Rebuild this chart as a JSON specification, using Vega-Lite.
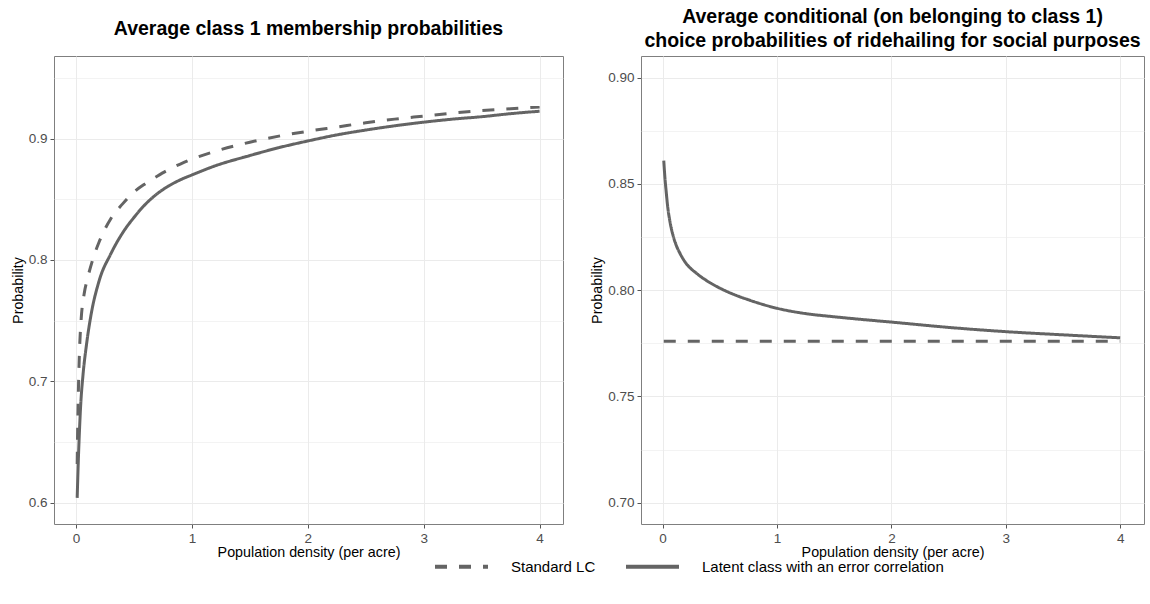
{
  "$schema": "https://vega.github.io/schema/vega-lite/v6.json",
  "background": "white",
  "padding": {"left": 10, "top": 6, "right": 2, "bottom": 2},
  "spacing": 26,
  "config": {
    "font": "Liberation Sans",
    "view": {"stroke": "#7F7F7F", "strokeWidth": 1},
    "title": {"font": "Liberation Sans", "fontSize": 19.5, "fontWeight": "bold", "color": "#000000", "anchor": "middle", "lineHeight": 24, "baseline": "bottom"},
    "axis": {
      "domain": false,
      "labelFont": "Liberation Sans", "labelFontSize": 13.5, "labelColor": "#4D4D4D",
      "titleFont": "Liberation Sans", "titleColor": "#000000", "titleFontWeight": "normal",
      "tickColor": "#555555", "tickSize": 4,
      "gridColor": "#EBEBEB", "labelOverlap": false, "labelFlush": false
    }
  },
  "datasets": {
    "curves": [
      {"panel": "left", "model": "Latent class with an error correlation", "x": 0.01, "p": 0.604},
      {"panel": "left", "model": "Latent class with an error correlation", "x": 0.02, "p": 0.635},
      {"panel": "left", "model": "Latent class with an error correlation", "x": 0.03, "p": 0.66},
      {"panel": "left", "model": "Latent class with an error correlation", "x": 0.04, "p": 0.68},
      {"panel": "left", "model": "Latent class with an error correlation", "x": 0.06, "p": 0.705},
      {"panel": "left", "model": "Latent class with an error correlation", "x": 0.09, "p": 0.73},
      {"panel": "left", "model": "Latent class with an error correlation", "x": 0.13, "p": 0.755},
      {"panel": "left", "model": "Latent class with an error correlation", "x": 0.2, "p": 0.783},
      {"panel": "left", "model": "Latent class with an error correlation", "x": 0.3, "p": 0.805},
      {"panel": "left", "model": "Latent class with an error correlation", "x": 0.4, "p": 0.822},
      {"panel": "left", "model": "Latent class with an error correlation", "x": 0.5, "p": 0.835},
      {"panel": "left", "model": "Latent class with an error correlation", "x": 0.6, "p": 0.846},
      {"panel": "left", "model": "Latent class with an error correlation", "x": 0.7, "p": 0.8545},
      {"panel": "left", "model": "Latent class with an error correlation", "x": 0.8, "p": 0.861},
      {"panel": "left", "model": "Latent class with an error correlation", "x": 0.9, "p": 0.866},
      {"panel": "left", "model": "Latent class with an error correlation", "x": 1.0, "p": 0.87},
      {"panel": "left", "model": "Latent class with an error correlation", "x": 1.2, "p": 0.8775},
      {"panel": "left", "model": "Latent class with an error correlation", "x": 1.5, "p": 0.886},
      {"panel": "left", "model": "Latent class with an error correlation", "x": 1.75, "p": 0.8925},
      {"panel": "left", "model": "Latent class with an error correlation", "x": 2.0, "p": 0.898},
      {"panel": "left", "model": "Latent class with an error correlation", "x": 2.25, "p": 0.903},
      {"panel": "left", "model": "Latent class with an error correlation", "x": 2.5, "p": 0.907},
      {"panel": "left", "model": "Latent class with an error correlation", "x": 2.75, "p": 0.9105},
      {"panel": "left", "model": "Latent class with an error correlation", "x": 3.0, "p": 0.9135},
      {"panel": "left", "model": "Latent class with an error correlation", "x": 3.25, "p": 0.916},
      {"panel": "left", "model": "Latent class with an error correlation", "x": 3.5, "p": 0.918},
      {"panel": "left", "model": "Latent class with an error correlation", "x": 3.75, "p": 0.9205},
      {"panel": "left", "model": "Latent class with an error correlation", "x": 4.0, "p": 0.9225},
      {"panel": "left", "model": "Standard LC", "x": 0.01, "p": 0.632},
      {"panel": "left", "model": "Standard LC", "x": 0.015, "p": 0.665},
      {"panel": "left", "model": "Standard LC", "x": 0.02, "p": 0.69},
      {"panel": "left", "model": "Standard LC", "x": 0.03, "p": 0.725},
      {"panel": "left", "model": "Standard LC", "x": 0.045, "p": 0.752},
      {"panel": "left", "model": "Standard LC", "x": 0.07, "p": 0.772},
      {"panel": "left", "model": "Standard LC", "x": 0.1, "p": 0.785},
      {"panel": "left", "model": "Standard LC", "x": 0.15, "p": 0.802},
      {"panel": "left", "model": "Standard LC", "x": 0.2, "p": 0.815},
      {"panel": "left", "model": "Standard LC", "x": 0.3, "p": 0.834},
      {"panel": "left", "model": "Standard LC", "x": 0.4, "p": 0.846},
      {"panel": "left", "model": "Standard LC", "x": 0.5, "p": 0.856},
      {"panel": "left", "model": "Standard LC", "x": 0.6, "p": 0.863},
      {"panel": "left", "model": "Standard LC", "x": 0.7, "p": 0.869},
      {"panel": "left", "model": "Standard LC", "x": 0.8, "p": 0.8745},
      {"panel": "left", "model": "Standard LC", "x": 0.9, "p": 0.879},
      {"panel": "left", "model": "Standard LC", "x": 1.0, "p": 0.883},
      {"panel": "left", "model": "Standard LC", "x": 1.2, "p": 0.8895},
      {"panel": "left", "model": "Standard LC", "x": 1.5, "p": 0.897},
      {"panel": "left", "model": "Standard LC", "x": 1.75, "p": 0.902},
      {"panel": "left", "model": "Standard LC", "x": 2.0, "p": 0.906},
      {"panel": "left", "model": "Standard LC", "x": 2.25, "p": 0.9095},
      {"panel": "left", "model": "Standard LC", "x": 2.5, "p": 0.913},
      {"panel": "left", "model": "Standard LC", "x": 2.75, "p": 0.916},
      {"panel": "left", "model": "Standard LC", "x": 3.0, "p": 0.9185},
      {"panel": "left", "model": "Standard LC", "x": 3.25, "p": 0.921},
      {"panel": "left", "model": "Standard LC", "x": 3.5, "p": 0.923},
      {"panel": "left", "model": "Standard LC", "x": 3.75, "p": 0.9245},
      {"panel": "left", "model": "Standard LC", "x": 4.0, "p": 0.926},
      {"panel": "right", "model": "Latent class with an error correlation", "x": 0.01, "p": 0.861},
      {"panel": "right", "model": "Latent class with an error correlation", "x": 0.02, "p": 0.853},
      {"panel": "right", "model": "Latent class with an error correlation", "x": 0.03, "p": 0.847},
      {"panel": "right", "model": "Latent class with an error correlation", "x": 0.045, "p": 0.839},
      {"panel": "right", "model": "Latent class with an error correlation", "x": 0.065, "p": 0.832},
      {"panel": "right", "model": "Latent class with an error correlation", "x": 0.09, "p": 0.826},
      {"panel": "right", "model": "Latent class with an error correlation", "x": 0.12, "p": 0.821},
      {"panel": "right", "model": "Latent class with an error correlation", "x": 0.15, "p": 0.8175},
      {"panel": "right", "model": "Latent class with an error correlation", "x": 0.2, "p": 0.813},
      {"panel": "right", "model": "Latent class with an error correlation", "x": 0.3, "p": 0.8078},
      {"panel": "right", "model": "Latent class with an error correlation", "x": 0.4, "p": 0.804},
      {"panel": "right", "model": "Latent class with an error correlation", "x": 0.5, "p": 0.801},
      {"panel": "right", "model": "Latent class with an error correlation", "x": 0.6, "p": 0.7985},
      {"panel": "right", "model": "Latent class with an error correlation", "x": 0.75, "p": 0.7955},
      {"panel": "right", "model": "Latent class with an error correlation", "x": 1.0, "p": 0.7915},
      {"panel": "right", "model": "Latent class with an error correlation", "x": 1.25, "p": 0.789},
      {"panel": "right", "model": "Latent class with an error correlation", "x": 1.5, "p": 0.7875},
      {"panel": "right", "model": "Latent class with an error correlation", "x": 1.75, "p": 0.7862},
      {"panel": "right", "model": "Latent class with an error correlation", "x": 2.0, "p": 0.785},
      {"panel": "right", "model": "Latent class with an error correlation", "x": 2.5, "p": 0.7825},
      {"panel": "right", "model": "Latent class with an error correlation", "x": 3.0, "p": 0.7805},
      {"panel": "right", "model": "Latent class with an error correlation", "x": 3.5, "p": 0.779},
      {"panel": "right", "model": "Latent class with an error correlation", "x": 4.0, "p": 0.7776},
      {"panel": "right", "model": "Standard LC", "x": 0.01, "p": 0.776},
      {"panel": "right", "model": "Standard LC", "x": 1.0, "p": 0.776},
      {"panel": "right", "model": "Standard LC", "x": 2.0, "p": 0.776},
      {"panel": "right", "model": "Standard LC", "x": 3.0, "p": 0.776},
      {"panel": "right", "model": "Standard LC", "x": 4.0, "p": 0.776}
    ]
  },
  "hconcat": [
    {
      "width": 509,
      "height": 468,
      "title": {"text": "Average class 1 membership probabilities", "offset": 17},
      "data": {"name": "curves"},
      "transform": [{"filter": "datum.panel === 'left'"}],
      "mark": {"type": "line", "color": "#646464", "strokeWidth": 3, "interpolate": "monotone", "clip": true},
      "encoding": {
        "x": {
          "field": "x", "type": "quantitative", "title": "Population density (per acre)",
          "scale": {"domain": [-0.19, 4.202], "nice": false, "zero": false},
          "axis": {
            "values": [0, 0.5, 1, 1.5, 2, 2.5, 3, 3.5, 4],
            "format": "d",
            "labelExpr": "datum.value % 1 === 0 ? datum.label : ''",
            "tickOpacity": {"condition": {"test": "datum.value % 1 === 0", "value": 1}, "value": 0},
            "gridWidth": {"condition": {"test": "datum.value % 1 === 0", "value": 1}, "value": 0.6},
            "titleFontSize": 14.3, "labelPadding": 3, "titlePadding": 1
          }
        },
        "y": {
          "field": "p", "type": "quantitative", "title": "Probability",
          "scale": {"domain": [0.5825, 0.968], "nice": false, "zero": false},
          "axis": {
            "values": [0.6, 0.65, 0.7, 0.75, 0.8, 0.85, 0.9, 0.95],
            "format": ".1f",
            "labelExpr": "abs(datum.value*10 - round(datum.value*10)) < 0.001 ? datum.label : ''",
            "tickOpacity": {"condition": {"test": "abs(datum.value*10 - round(datum.value*10)) < 0.001", "value": 1}, "value": 0},
            "gridWidth": {"condition": {"test": "abs(datum.value*10 - round(datum.value*10)) < 0.001", "value": 1}, "value": 0.6},
            "titleFontSize": 14.3, "labelPadding": 3, "titlePadding": 3
          }
        },
        "strokeDash": {
          "field": "model", "type": "nominal",
          "scale": {"domain": ["Standard LC", "Latent class with an error correlation"], "range": [[12, 12], [1, 0]]},
          "legend": {
            "title": null, "orient": "none", "direction": "horizontal", "legendX": 379, "legendY": 482, "padding": 0,
            "symbolType": "stroke", "symbolSize": 2809, "symbolStrokeWidth": 4, "symbolStrokeColor": "#646464",
            "labelFont": "Liberation Sans", "labelFontSize": 15, "labelColor": "#000000", "labelOffset": 21,
            "columnPadding": 22, "labelLimit": 400
          }
        }
      }
    },
    {
      "width": 503,
      "height": 468,
      "title": {"text": ["Average conditional (on belonging to class 1)", "choice probabilities of ridehailing for social purposes"], "offset": 5},
      "data": {"name": "curves"},
      "transform": [{"filter": "datum.panel === 'right'"}],
      "mark": {"type": "line", "color": "#646464", "strokeWidth": 3, "interpolate": "monotone", "clip": true},
      "encoding": {
        "x": {
          "field": "x", "type": "quantitative", "title": "Population density (per acre)",
          "scale": {"domain": [-0.189, 4.208], "nice": false, "zero": false},
          "axis": {
            "values": [0, 0.5, 1, 1.5, 2, 2.5, 3, 3.5, 4],
            "format": "d",
            "labelExpr": "datum.value % 1 === 0 ? datum.label : ''",
            "tickOpacity": {"condition": {"test": "datum.value % 1 === 0", "value": 1}, "value": 0},
            "gridWidth": {"condition": {"test": "datum.value % 1 === 0", "value": 1}, "value": 0.6},
            "titleFontSize": 14.3, "labelPadding": 3, "titlePadding": 1
          }
        },
        "y": {
          "field": "p", "type": "quantitative", "title": "Probability",
          "scale": {"domain": [0.690, 0.9102], "nice": false, "zero": false},
          "axis": {
            "values": [0.7, 0.725, 0.75, 0.775, 0.8, 0.825, 0.85, 0.875, 0.9],
            "format": ".2f",
            "labelExpr": "abs(datum.value*20 - round(datum.value*20)) < 0.001 ? datum.label : ''",
            "tickOpacity": {"condition": {"test": "abs(datum.value*20 - round(datum.value*20)) < 0.001", "value": 1}, "value": 0},
            "gridWidth": {"condition": {"test": "abs(datum.value*20 - round(datum.value*20)) < 0.001", "value": 1}, "value": 0.6},
            "titleFontSize": 14.3, "labelPadding": 3, "titlePadding": 3
          }
        },
        "strokeDash": {
          "field": "model", "type": "nominal",
          "scale": {"domain": ["Standard LC", "Latent class with an error correlation"], "range": [[12, 12], [1, 0]]},
          "legend": {
            "title": null, "orient": "none", "direction": "horizontal", "legendX": 379, "legendY": 482, "padding": 0,
            "symbolType": "stroke", "symbolSize": 2809, "symbolStrokeWidth": 4, "symbolStrokeColor": "#646464",
            "labelFont": "Liberation Sans", "labelFontSize": 15, "labelColor": "#000000", "labelOffset": 21,
            "columnPadding": 22, "labelLimit": 400
          }
        }
      }
    }
  ]
}
